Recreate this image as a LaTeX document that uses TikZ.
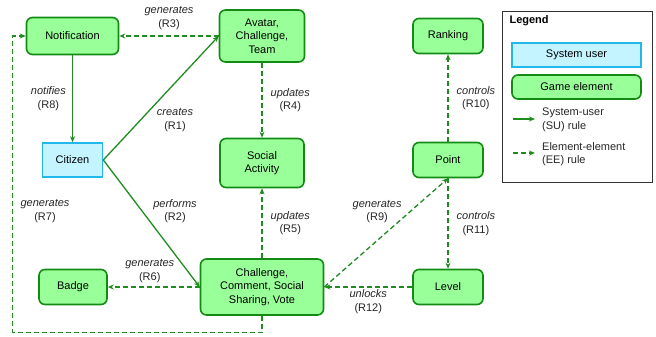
\documentclass[tikz,border=0pt]{standalone}
\usepackage{fontspec}
\setmainfont{Liberation Sans}
\usetikzlibrary{positioning, arrows.meta}
\definecolor{gamefill}{HTML}{99FF99}
\definecolor{gameline}{HTML}{138A13}
\definecolor{userfill}{HTML}{C4F4FF}
\definecolor{userline}{HTML}{22B8EC}
\definecolor{ruleline}{HTML}{1E8C1E}

\begin{document}
\begin{tikzpicture}[
  x=1pt, y=-1pt,
  font=\fontsize{11}{13.5}\selectfont,
  game/.style={draw=gameline, fill=gamefill, line width=1.6pt, rounded corners=6pt, align=center, inner sep=0pt, minimum width=70pt, minimum height=35pt},
  user/.style={draw=userline, fill=userfill, line width=1.6pt, align=center, inner sep=0pt},
  su/.style={->, draw=ruleline, line width=1.3pt},
  ee/.style={su, dash pattern=on 5pt off 3pt},
  lbl/.style={align=center, inner sep=1pt, text=black!85},
  >={Stealth[length=6pt, width=5pt]}
]
\useasboundingbox (0,0) rectangle (656,337);

% game elements and the user
\node[game, minimum width=92pt, minimum height=37pt] (notif) at (72.5,36) {Notification};
\node[game, minimum width=85pt, minimum height=52pt] (avatar) at (262,36) {Avatar,\\Challenge,\\Team};
\node[user, minimum width=60pt, minimum height=34pt] (citizen) at (72.5,160) {Citizen};
\node[game, minimum width=84pt, minimum height=49pt] (social) at (262,163) {Social\\Activity};
\node[game, minimum width=68pt] (badge) at (73,287) {Badge};
\node[game, minimum width=123pt, minimum height=56pt] (action) at (262,287) {Challenge,\\Comment, Social\\Sharing, Vote};
\node[game] (ranking) at (448,36) {Ranking};
\node[game] (point) at (448,160) {Point};
\node[game] (level) at (448,287) {Level};

% rules
\draw[su] (notif) -- node[lbl, midway, left=5pt] (lbR8) {\textit{notifies}\\(R8)} (citizen);
\draw[su] (citizen.east) -- node[lbl, midway, xshift=14pt, yshift=-22pt] (lbR1) {\textit{creates}\\(R1)} (avatar.west);
\draw[su] (citizen.east) -- node[lbl, midway, xshift=23.5pt, yshift=12.5pt] (lbR2) {\textit{performs}\\(R2)} (action.west);
\draw[ee] (avatar.west) -- node[lbl, midway, above=5pt] (lbR3) {\textit{generates}\\(R3)} (notif.east);
\draw[ee] (avatar) -- node[lbl, midway, right=7pt] (lbR4) {\textit{updates}\\(R4)} (social);
\draw[ee] (action) -- node[lbl, midway, right=7pt] (lbR5) {\textit{updates}\\(R5)} (social);
\draw[ee] (action.west) -- node[lbl, midway, above=3pt, xshift=-4pt] (lbR6) {\textit{generates}\\(R6)} (badge.east);
\draw[ee] (action.south) -- ++(0,16.5) -| ([xshift=-13pt]notif.west) -- (notif.west);
\node[lbl] (lbR7) at (45,211) {\textit{generates}\\(R7)};
\draw[ee] (action.east) -- node[lbl, midway, xshift=-9pt, yshift=21pt] (lbR9) {\textit{generates}\\(R9)} (point.south);
\draw[ee] (point) -- node[lbl, midway, right=7pt] (lbR10) {\textit{controls}\\(R10)} (ranking);
\draw[ee] (point.south) -- node[lbl, midway, right=7pt] (lbR11) {\textit{controls}\\(R11)} (level);
\draw[ee] (level.west) -- node[lbl, midway, below=1pt] (lbR12) {\textit{unlocks}\\(R12)} (action.east);

% legend
\node[draw=black!80, line width=0.9pt, minimum width=150pt, minimum height=171pt, inner sep=0pt] (legend) at (577,96.5) {};
\node[anchor=west, font=\fontsize{11}{13.5}\selectfont\bfseries] (legtitle) at (506,21) {Legend};
\node[user, minimum width=129pt, minimum height=24pt] (legsu) at (576.5,55) {System user};
\node[game, minimum width=129pt, minimum height=24pt] (leggame) at (576.5,87) {Game element};
\coordinate (suA) at (513,119);
\coordinate (suB) at (535,119);
\draw[su] (suA) -- (suB);
\node[lbl, anchor=west, align=left] (sutext) at (541,120) {System-user\\(SU) rule};
\coordinate (eeA) at (513,153);
\coordinate (eeB) at (535,153);
\draw[ee] (eeA) -- (eeB);
\node[lbl, anchor=west, align=left] (eetext) at (541,154) {Element-element\\(EE) rule};
\end{tikzpicture}
\end{document}
